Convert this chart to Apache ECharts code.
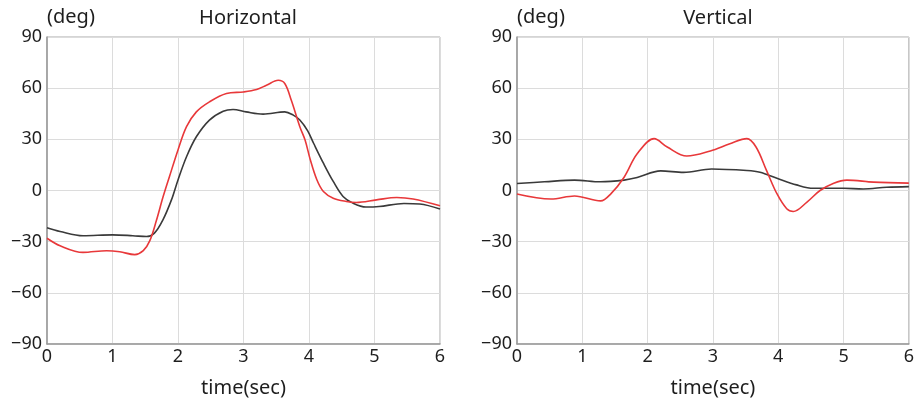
<!DOCTYPE html>
<html>
<head>
<meta charset="utf-8">
<title>Horizontal / Vertical</title>
<script src="https://cdn.jsdelivr.net/npm/echarts@6/dist/echarts.min.js"></script>
</head>
<body style="margin:0;background:#fff;">
<div id="main" style="width:917px;height:405px;"></div>
<script type="text/javascript">
    // Horizontal panel
    var hRedT = [0, 0.2, 0.55, 0.91, 1.11, 1.34, 1.47, 1.57, 1.67, 1.77, 1.87, 2.0, 2.13, 2.28, 2.48, 2.74, 3.0, 3.2, 3.35, 3.53, 3.63, 3.73, 3.86, 3.94, 4.02, 4.12, 4.22, 4.37, 4.57, 4.72, 5.03, 5.34, 5.59, 6.0];
    var hRedV = [-28, -32.4, -36.3, -35.3, -35.9, -37.6, -35.3, -29.4, -17.6, -4, 8.2, 23.8, 37.4, 46.1, 52, 56.9, 57.8, 59.2, 61.7, 64.6, 62.7, 52.9, 37.4, 29.6, 18, 6.3, -0.6, -4.5, -6.4, -7, -5.5, -4.1, -5, -9];
    var hBlackT = [0, 0.2, 0.55, 1.0, 1.31, 1.52, 1.64, 1.77, 1.9, 2.0, 2.13, 2.28, 2.48, 2.69, 2.84, 3.04, 3.3, 3.63, 3.76, 3.86, 3.98, 4.07, 4.22, 4.37, 4.52, 4.67, 4.87, 5.07, 5.45, 5.69, 6.0];
    var hBlackV = [-21.8, -24, -26.5, -26, -26.5, -27, -25, -17.2, -5.5, 6.2, 19.8, 31.5, 41.3, 46.5, 47.5, 46.1, 44.8, 46.1, 44.2, 41.3, 35, 27.7, 16, 5.3, -3.5, -7.4, -9.7, -9.4, -7.6, -7.9, -10.9];

    // Vertical panel
    var vRedT = [0, 0.52, 0.88, 1.28, 1.44, 1.64, 1.84, 2.1, 2.3, 2.6, 2.96, 3.26, 3.52, 3.66, 3.82, 3.98, 4.13, 4.23, 4.44, 4.64, 4.85, 5.05, 5.46, 6.0];
    var vRedV = [-2, -5, -3.2, -6.1, -1.8, 7.8, 21.5, 30.4, 25.5, 20.2, 23.2, 27.4, 30.4, 25.5, 11.8, -1.9, -10.7, -12.3, -6.8, 0, 4.3, 6.1, 4.9, 4.3];
    var vBlackT = [0, 0.42, 0.88, 1.28, 1.64, 1.84, 2.2, 2.55, 2.98, 3.52, 3.72, 3.98, 4.28, 4.54, 5.0, 5.3, 5.66, 6.0];
    var vBlackV = [4.1, 5.1, 6.1, 5.1, 6.1, 7.6, 11.5, 10.6, 12.6, 11.7, 10.7, 7.2, 3.3, 1.3, 1.3, 0.9, 1.9, 2.3];

    var titles = ["Horizontal", "Vertical"];
    var yTicks = [-90, -60, -30, 0, 30, 60, 90];

    var FONT = "Noto Sans";
    var TXT = "#1e1e1e";

    function pairs(t, v) {
        var out = [];
        for (var i = 0; i < t.length; ++i) {
            out.push([t[i], v[i]]);
        }
        return out;
    }

    function fmtY(val) {
        return val < 0 ? "\u2212" + Math.abs(val) : String(val);
    }

    function xAxisFor(idx) {
        return {
            type: 'value', gridIndex: idx, min: 0, max: 6, interval: 1,
            name: 'time(sec)', nameLocation: 'middle', nameGap: 44,
            nameTextStyle: { fontFamily: FONT, fontSize: 20, color: TXT, verticalAlign: 'middle' },
            axisLine: { onZero: false, lineStyle: { color: '#999', width: 1.5 } },
            axisTick: { show: false },
            axisLabel: { fontFamily: FONT, fontSize: 18, color: TXT, margin: 4 },
            splitLine: { lineStyle: { color: '#dcdcdc' } }
        };
    }

    function yAxisFor(idx) {
        return {
            type: 'value', gridIndex: idx, min: yTicks[0], max: yTicks[yTicks.length - 1], interval: 30,
            name: '(deg)', nameLocation: 'end', nameGap: 20,
            nameTextStyle: { fontFamily: FONT, fontSize: 20, color: TXT, align: 'left', verticalAlign: 'middle' },
            axisLine: { show: true, onZero: false, lineStyle: { color: '#999', width: 1.5 } },
            axisTick: { show: false },
            axisLabel: { fontFamily: FONT, fontSize: 18, color: TXT, margin: 5, formatter: fmtY },
            splitLine: { lineStyle: { color: '#dcdcdc' } }
        };
    }

    function lineSeries(idx, data, color) {
        return {
            type: 'line', xAxisIndex: idx, yAxisIndex: idx,
            data: data, smooth: 0.35,
            symbol: 'none', silent: true,
            lineStyle: { color: color, width: 1.6 }
        };
    }

    var myChart = echarts.init(document.getElementById('main'));
    myChart.setOption({
        animation: false,
        title: [
            { text: titles[0], left: 243, top: 3, textAlign: 'center',
              textStyle: { fontFamily: FONT, fontSize: 20, fontWeight: 'normal', color: TXT } },
            { text: titles[1], left: 713, top: 3, textAlign: 'center',
              textStyle: { fontFamily: FONT, fontSize: 20, fontWeight: 'normal', color: TXT } }
        ],
        grid: [
            { left: 47, right: 477, top: 37, bottom: 61, show: true, borderColor: '#aaa', borderWidth: 1 },
            { left: 517, right: 8, top: 37, bottom: 61, show: true, borderColor: '#aaa', borderWidth: 1 }
        ],
        xAxis: [xAxisFor(0), xAxisFor(1)],
        yAxis: [yAxisFor(0), yAxisFor(1)],
        series: [
            lineSeries(0, pairs(hBlackT, hBlackV), '#3a3a3a'),
            lineSeries(0, pairs(hRedT, hRedV), '#e8383a'),
            lineSeries(1, pairs(vBlackT, vBlackV), '#3a3a3a'),
            lineSeries(1, pairs(vRedT, vRedV), '#e8383a')
        ]
    });
</script>
</body>
</html>
